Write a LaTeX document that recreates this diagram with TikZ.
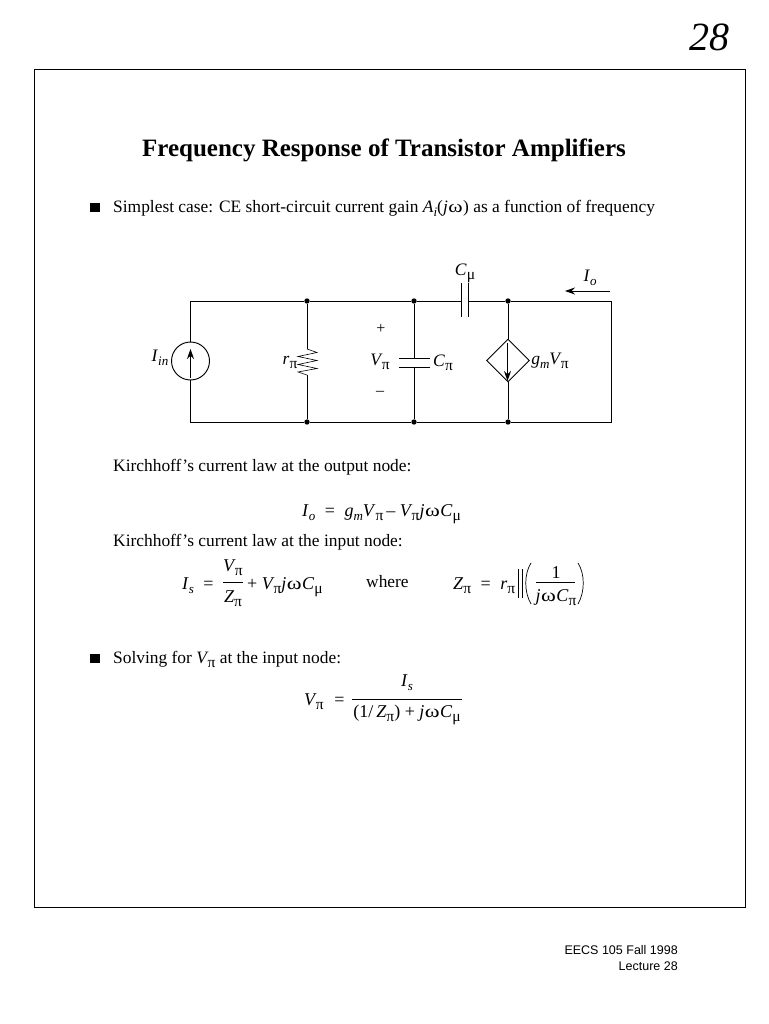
\documentclass[tikz,border=0pt]{standalone}
\usepackage{fontspec}
\setmainfont{Liberation Serif}
\newfontfamily\footfont{Liberation Sans}
\usetikzlibrary{shapes.geometric,arrows.meta}
\newcommand{\fs}[1]{\fontsize{#1}{#1}\selectfont}
\newcommand{\lowr}[1]{\raisebox{-4pt}{\fs{15.5}#1}}
\newcommand{\lowi}[1]{\raisebox{-4pt}{\fs{13}\itshape #1}}
\newcommand{\pisub}{\lowr{π}}
\newcommand{\musub}{\lowr{μ}}
\newcommand{\vi}[1]{\textit{#1}}
\newcommand{\Vp}{\vi{V}\kern-1pt\pisub}
\newcommand{\omg}{\kern0.5pt\scalebox{1.25}[1]{ω}\kern0.5pt}
\tikzset{
 x=1pt,y=-1pt,
 wire/.style={line width=0.95pt,line join=miter},
 dotn/.style={circle,fill=black,inner sep=0pt,minimum size=5.4pt},
 body/.style={anchor=base west,inner sep=0pt,font=\fs{17.4}},
 lab/.style={anchor=base,inner sep=0pt,font=\fs{17.5}},
 eqn/.style={anchor=base west,inner sep=0pt,font=\fs{18}},
 eqc/.style={anchor=base,inner sep=0pt,font=\fs{18}},
 bar/.style={line width=0.7pt},
 tip/.style={-{Stealth[length=10pt,width=7pt]}},
}
\begin{document}
\begin{tikzpicture}
\useasboundingbox (0,0) rectangle (768,1024);
\node[lab,font=\fs{40}\itshape] (page) at (709,51) {28};
\draw[line width=0.8pt] (34.5,69.5) rectangle (745.5,907.5);
\node[lab,font=\fs{25}\bfseries] (title) at (384,157) {Frequency Response of Transistor Amplifiers};
\node[fill=black,inner sep=0pt,minimum size=9.5pt] (b1) at (95,207.5) {};
\node[body] (t1) at (113,213) {Simplest case: CE short-circuit current gain \vi{A}\lowi{i}(\vi{j}\omg) as a function of frequency};

% circuit
\coordinate (tl) at (190.5,301);
\coordinate (bl) at (190.5,422);
\node[dotn] (rt) at (307,301) {};
\node[dotn] (rb) at (307,422) {};
\node[dotn] (ct) at (414,301) {};
\node[dotn] (cb) at (414,422) {};
\node[dotn] (gt) at (508,301) {};
\node[dotn] (gb) at (508,422) {};
\coordinate (tr) at (611,301);
\coordinate (br) at (611,422);
\node[circle,draw,line width=0.95pt,minimum size=38pt,inner sep=0pt] (src) at (190.5,361) {};
\node[diamond,draw,line width=0.95pt,minimum width=43pt,minimum height=43pt,inner sep=0pt] (dep) at (508,360.5) {};
\coordinate (cma) at (461,301);
\coordinate (cmb) at (468,301);
\coordinate (cpa) at (414,358);
\coordinate (cpb) at (414,367);
\coordinate (ra) at (307,349);
\coordinate (rc) at (307,375);
\draw[wire] (src.north) -- (tl) -- (rt) -- (ct) -- (cma);
\draw[wire] (cmb) -- (gt) -- (tr) -- (br) -- (gb) -- (cb) -- (rb) -- (bl) -- (src.south);
\draw[wire] (461,283) -- (461,317);
\draw[wire] (468,283) -- (468,317);
\draw[wire] (rt) -- (ra);
\draw[line width=0.6pt] (ra) -- (317,352.5) -- (298,356.5) -- (317,360.5) -- (298,364.5) -- (317,368.5) -- (298,372) -- (rc);
\draw[wire] (rc) -- (rb);
\draw[wire] (ct) -- (cpa);
\draw[wire] (cpb) -- (cb);
\draw[wire] (399,358) -- (430,358);
\draw[wire] (399,367) -- (430,367);
\draw[wire] (gt) -- (dep.north);
\draw[wire] (dep.south) -- (gb);
\draw[wire,tip] (190.5,378) -- (190.5,349);
\draw[wire,tip] (507.5,343) -- (507.5,381);
\coordinate (ioa) at (610,291);
\coordinate (iob) at (565,291);
\draw[wire,tip] (ioa) -- (iob);
\node[lab] (lcmu) at (465,275) {\vi{C}\musub};
\node[lab] (lio) at (590,281) {\vi{I}\lowi{o}};
\node[lab] (lin) at (160,361) {\vi{I}\lowi{in}};
\node[lab] (lr) at (290,364) {\vi{r}\pisub};
\node[lab,font=\fs{16}] (lp) at (381,333) {+};
\node[lab] (lv) at (380,365) {\Vp};
\node[lab,font=\fs{16}] (lm) at (380,395) {–};
\node[lab] (lc) at (443,366) {\vi{C}\pisub};
\node[lab] (lg) at (550,364) {\vi{g}\lowi{m}\Vp};

% equations
\node[body] (k1) at (113,471) {Kirchhoff’s current law at the output node:};
\node[eqn] (e1) at (302,516) {\vi{I}\lowi{o}\hspace{5pt} = \hspace{5pt}\vi{g}\lowi{m}\vi{V}\pisub\kern3pt– \Vp\vi{j}\omg\vi{C}\musub};
\node[body] (k2) at (113,546) {Kirchhoff’s current law at the input node:};
\node[eqn] (e2a) at (182,589) {\vi{I}\lowi{s}\hspace{5pt} = };
\node[eqc] (e2n) at (233,571) {\Vp};
\node[eqc] (e2d) at (233,602) {\vi{Z}\pisub};
\draw[bar] (223,582) -- (243,582);
\node[eqn] (e2c) at (247,589) {+ \Vp\vi{j}\omg\vi{C}\musub};
\node[body] (where) at (366,587) {where};
\node[eqn] (e3a) at (453,589) {\vi{Z}\pisub\hspace{5pt} = \hspace{5pt}\vi{r}\pisub};
\draw[line width=0.6pt] (518,569) -- (518,598) (522.5,569) -- (522.5,598);
\node[eqc] (e3n) at (556,578) {1};
\node[eqc] (e3d) at (556,601) {\vi{j}\omg\vi{C}\pisub};
\draw[bar] (536,582) -- (575,582);
\draw[line width=0.7pt] (531,563) .. controls (524,574) and (524,592) .. (531,604);
\draw[line width=0.7pt] (578,563) .. controls (585,574) and (585,592) .. (578,604);
\node[fill=black,inner sep=0pt,minimum size=9.5pt] (b2) at (95,658.5) {};
\node[body] (t2) at (113,663) {Solving for \Vp\ at the input node:};
\node[eqn] (e4a) at (304,705) {\Vp\hspace{6pt} = };
\node[eqc] (e4n) at (407,686) {\vi{I}\lowi{s}};
\node[eqc] (e4d) at (407,717) {(1/\,\vi{Z}\pisub) + \vi{j}\omg\vi{C}\musub};
\draw[bar] (352,699) -- (462,699);

\node[anchor=base east,inner sep=0pt,font=\footfont\fs{12.5}] (f1) at (678,954) {EECS 105 Fall 1998};
\node[anchor=base east,inner sep=0pt,font=\footfont\fs{12.5}] (f2) at (678,970) {Lecture 28};
\end{tikzpicture}
\end{document}
